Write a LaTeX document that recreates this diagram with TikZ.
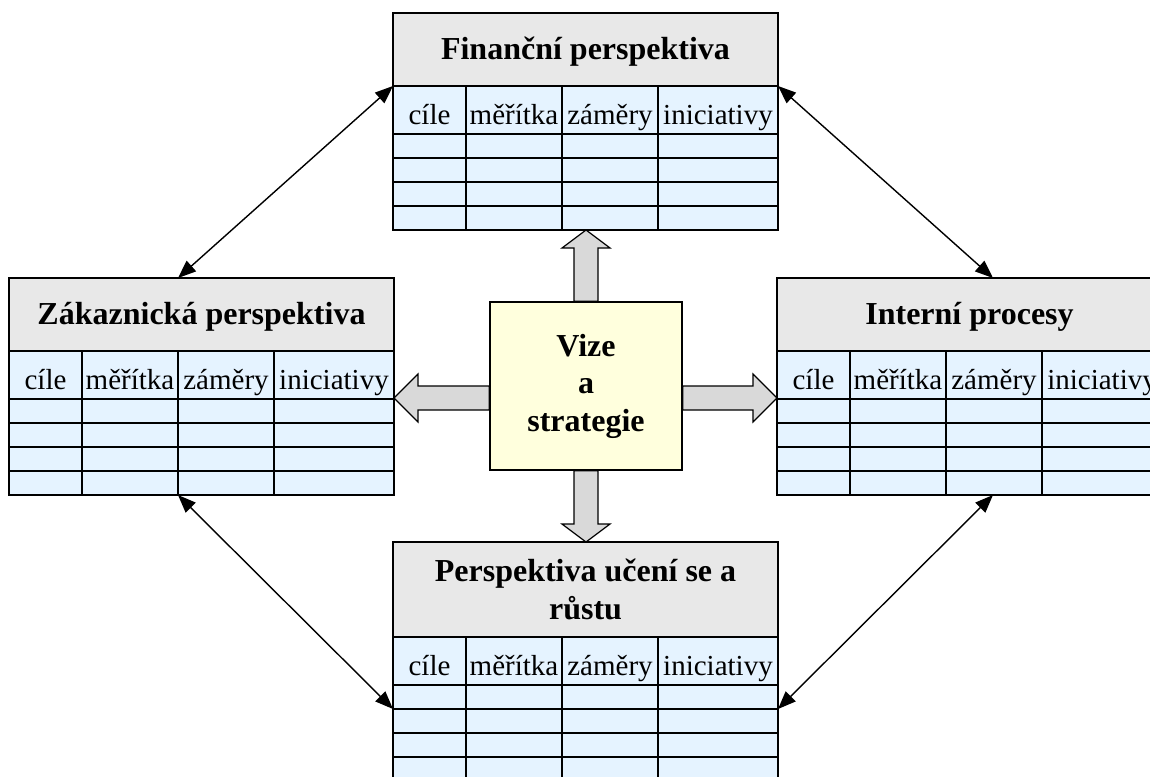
\documentclass[tikz,border=0pt]{standalone}
\usepackage{fontspec}
\setmainfont{Liberation Serif}
\usetikzlibrary{calc,arrows.meta,backgrounds}

\definecolor{headgrey}{RGB}{232,232,232}
\definecolor{cellblue}{RGB}{229,243,255}
\definecolor{visionyellow}{RGB}{255,255,221}
\definecolor{arrowgrey}{RGB}{217,217,217}

\tikzset{
  frame/.style={draw=black, line width=1.4pt, inner sep=0pt, outer sep=0pt, anchor=north west},
  headbox/.style={frame, fill=headgrey, minimum width=385pt,
    font=\fontsize{32}{37.5}\selectfont\bfseries},
  oneline/.style={text height=28pt, text depth=8pt},
  twoline/.style={align=center},
  emptycell/.style={frame, fill=cellblue},
  cellbox/.style={emptycell, font=\fontsize{29}{34}\selectfont,
    text height=34pt, text depth=6pt},
  vision/.style={draw=black, line width=1.4pt, fill=visionyellow, inner sep=0pt,
    minimum width=192pt, minimum height=168pt, align=center,
    font=\fontsize{32}{37.5}\selectfont\bfseries},
  blockarrow/.style={draw=black, line width=1.2pt, fill=arrowgrey, line join=miter},
  link/.style={line width=1.4pt,
    {Triangle[length=18pt,width=14pt]}-{Triangle[length=18pt,width=14pt]}},
}

% one perspective: header + table (columns 73/96/96/120, rows 48 + 4x24)
\newcommand{\bsctable}[6]{%
  \node[headbox, minimum height=#4, #5] (#1) at (#2,#3) {#6};
  \foreach \c/\xo/\w/\t in {1/0/73/cíle, 2/73/96/měřítka, 3/169/96/záměry, 4/265/120/iniciativy} {
    \node[cellbox, minimum width=\w pt, minimum height=48pt] (#1-0-\c)
      at ($(#1.south west)+(\xo,0)$) {\t};
    \foreach \r in {1,...,4} {
      \node[emptycell, minimum width=\w pt, minimum height=24pt] (#1-\r-\c)
        at ($(#1.south west)+(\xo,24+24*\r)$) {};
    }
  }%
}

\begin{document}
\begin{tikzpicture}[x=1pt,y=-1pt]
  \useasboundingbox (0,0) rectangle (1150,776);
  \clip (0,0) rectangle (1150,776);

  % the four perspectives
  \bsctable{fin}{393}{13}{73pt}{oneline}{Finanční perspektiva}
  \bsctable{zak}{9}{278}{73pt}{oneline}{Zákaznická perspektiva}
  \bsctable{int}{777}{278}{73pt}{oneline}{Interní procesy}
  \bsctable{uc}{393}{542}{95pt}{twoline}{Perspektiva učení se a\\růstu}

  % vision and strategy in the middle
  \node[vision] (vize) at (586,386) {Vize\\a\\strategie};

  % broad arrows from the centre to each perspective
  \coordinate (tipN) at (vize.north |- fin-4-1.south);
  \coordinate (tipS) at (vize.south |- uc.north);
  \coordinate (la) at ($(vize.west)+(0,12)$);
  \coordinate (ra) at ($(vize.east)+(0,12)$);
  \coordinate (tipW) at (zak.east |- la);
  \coordinate (tipE) at (int.west |- ra);
  \begin{scope}[on background layer]
    \draw[blockarrow] ($(vize.north)+(-12,0)$) |- ($(tipN)+(-24,18)$) -- (tipN)
      -- ($(tipN)+(24,18)$) -| ($(vize.north)+(12,0)$) -- cycle;
    \draw[blockarrow] ($(vize.south)+(-12,0)$) |- ($(tipS)+(-24,-18)$) -- (tipS)
      -- ($(tipS)+(24,-18)$) -| ($(vize.south)+(12,0)$) -- cycle;
    \draw[blockarrow] ($(la)+(0,-12)$) -| ($(tipW)+(24,-24)$) -- (tipW)
      -- ($(tipW)+(24,24)$) |- ($(la)+(0,12)$) -- cycle;
    \draw[blockarrow] ($(ra)+(0,-12)$) -| ($(tipE)+(-24,-24)$) -- (tipE)
      -- ($(tipE)+(-24,24)$) |- ($(ra)+(0,12)$) -- cycle;
  \end{scope}

  % links between neighbouring perspectives
  \coordinate (zakTop) at ($(zak.north west)+(169,0)$);
  \coordinate (intTop) at ($(int.north west)+(216,0)$);
  \coordinate (intBot) at ($(int-4-1.south west)+(216,0)$);
  \draw[link] (zakTop) -- (fin.south west);
  \draw[link] (fin.south east) -- (intTop);
  \draw[link] (zak-4-3.south west) -- (uc-2-1.north west);
  \draw[link] (uc-2-4.north east) -- (intBot);
\end{tikzpicture}
\end{document}
